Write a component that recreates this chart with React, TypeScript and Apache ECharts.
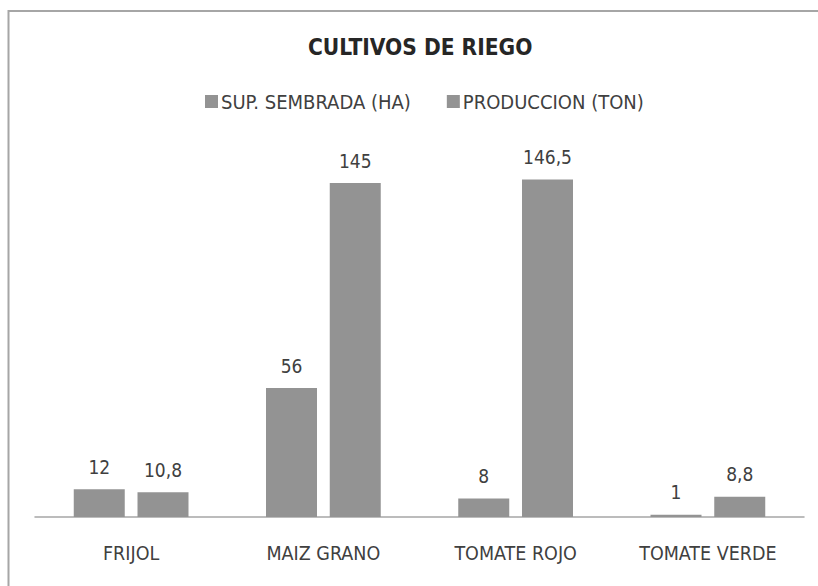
import React, { useEffect, useRef } from "react";
import * as echarts from "echarts";

const categories = ["FRIJOL", "MAIZ GRANO", "TOMATE ROJO", "TOMATE VERDE"];
const supSembrada = [12, 56, 8, 1];
const produccion = [10.8, 145, 146.5, 8.8];
const seriesNames = ["SUP. SEMBRADA (HA)", "PRODUCCION (TON)"];
const titleText = "CULTIVOS DE RIEGO";

const FONT = "'Liberation Sans Narrow', 'DejaVu Sans Condensed', 'Noto Sans', sans-serif";
const BAR = "#939393";
const TXT = "#404040";

export default function App() {
  const ref = useRef<HTMLDivElement>(null);
  useEffect(() => {
    if (!ref.current) return;
    const chart = echarts.init(ref.current, undefined, { renderer: "svg" });
    const fmt = (p: any) => String(p.value).replace(".", ",");
    const labelStyle = {
      show: true,
      position: "top",
      distance: 13,
      formatter: fmt,
      fontFamily: FONT,
      fontSize: 19,
      color: TXT,
    };
    chart.setOption({
      animation: false,
      backgroundColor: "#ffffff",
      title: {
        text: titleText,
        left: 303,
        top: 30,
        textStyle: { fontFamily: FONT, fontSize: 22.5, fontWeight: "bold", color: "#262626" },
      },
      legend: {
        top: 86.5,
        left: 200,
        itemWidth: 13,
        itemHeight: 13,
        itemGap: 36,
        icon: "rect",
        data: seriesNames,
        textStyle: { fontFamily: FONT, fontSize: 20, color: TXT, padding: [0, 0, 0, -2] },
      },
      graphic: [
        {
          type: "rect",
          shape: { x: 8.5, y: 11, width: 830, height: 600 },
          style: { fill: "none", stroke: "#a6a6a6", lineWidth: 2 },
          silent: true,
        },
      ],
      grid: { left: 35, right: 14, top: 148.5, bottom: 69, containLabel: false },
      xAxis: {
        type: "category",
        data: categories,
        axisLine: { lineStyle: { color: "#a6a6a6", width: 1.5 } },
        axisTick: { show: false },
        axisLabel: { fontFamily: FONT, fontSize: 19.5, color: TXT, margin: 26 },
      },
      yAxis: {
        type: "value",
        min: 0,
        max: 160,
        interval: 20,
        show: false,
        splitLine: { show: false },
      },
      series: [
        {
          name: seriesNames[0],
          type: "bar",
          data: supSembrada,
          itemStyle: { color: BAR },
          barWidth: 51,
          barGap: "25%",
          label: labelStyle,
        },
        {
          name: seriesNames[1],
          type: "bar",
          data: produccion,
          itemStyle: { color: BAR },
          barWidth: 51,
          barGap: "25%",
          label: labelStyle,
        },
      ],
    });
    return () => chart.dispose();
  }, []);
  return <div ref={ref} style={{ position: "fixed", left: 0, top: 0, width: 818, height: 586 }} />;
}
